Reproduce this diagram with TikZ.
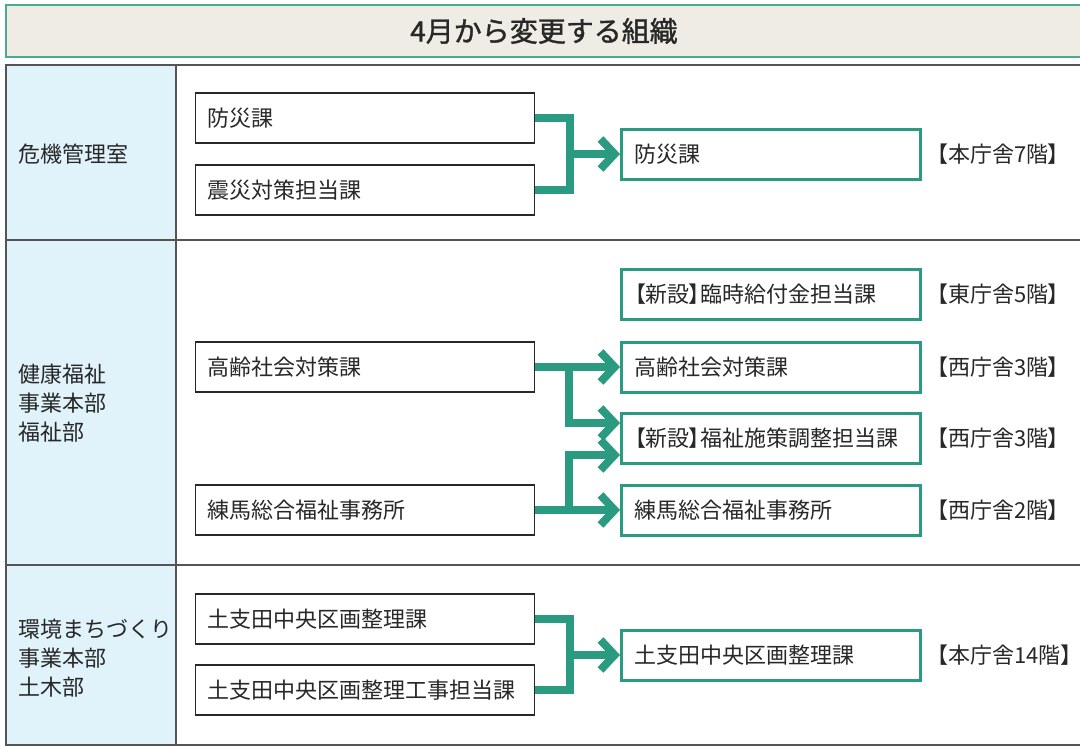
\documentclass[tikz,border=0pt]{standalone}
\usepackage{fontspec}
\setmainfont{Noto Sans CJK JP}
\newfontfamily\paltfont{Noto Sans CJK JP}[RawFeature=+palt]
\newfontfamily\titlefont{Noto Sans CJK JP}[FakeBold=1.3]
\usetikzlibrary{arrows.meta}
\definecolor{tealc}{RGB}{42,154,128}
\definecolor{txt}{RGB}{40,40,40}
\definecolor{rule}{RGB}{85,85,85}
\definecolor{side}{RGB}{224,242,250}
\definecolor{titlebg}{RGB}{239,236,230}
\newcommand{\lb}{{\paltfont 【}}
\newcommand{\rb}{{\paltfont 】}}
\tikzset{
  body/.style={font=\fontsize{22}{29}\selectfont, text=txt},
  oldbox/.style={body, draw=txt, line width=1.3pt, fill=white, anchor=west,
    minimum height=50pt, inner xsep=12pt, inner ysep=0pt, text width=315pt, align=left},
  newbox/.style={body, draw=tealc, line width=3pt, fill=white, anchor=west,
    minimum height=50pt, inner xsep=13pt, inner ysep=0pt, text width=273pt, align=left},
  floor/.style={body, anchor=west, inner sep=0pt},
  dept/.style={body, anchor=west, inner sep=0pt, align=left},
  link/.style={draw=tealc, line width=8pt, line join=miter, line cap=butt},
  arr/.style={link, -{Straight Barb[length=14pt, width=30pt, sharp]}},
}
\begin{document}
\begin{tikzpicture}[x=1pt,y=-1pt]
\clip (0,0) rectangle (1080,747);
\fill[white] (0,0) rectangle (1080,747);
% title bar
\draw[fill=titlebg, draw=tealc!85, line width=1.5pt] (6,5) rectangle (1082,57);
\node[font=\titlefont\fontsize{28}{32}\selectfont, text=txt] (title) at (544,31) {4月から変更する組織};
% table
\fill[side] (6,65) rectangle (176,745);
\draw[rule, line width=2pt] (6,65) rectangle (1090,745);
\draw[rule, line width=2pt] (176,65) -- (176,745);
\draw[rule, line width=2pt] (6,240) -- (1090,240);
\draw[rule, line width=2pt] (6,565) -- (1090,565);
% department labels
\node[dept] (d1) at (18,154) {危機管理室};
\node[dept] (d2) at (18,403) {健康福祉\\事業本部\\福祉部};
\node[dept] (d3) at (18,658) {環境まちづくり\\事業本部\\土木部};
% row 1
\node[oldbox] (a1) at (195,118) {防災課};
\node[oldbox] (a2) at (195,190) {震災対策担当課};
\node[newbox] (n1) at (620,154) {防災課};
\node[floor] (f1) at (937,154) {\lb 本庁舎7階\rb};
\coordinate (j1) at (570,154);
\draw[link] (a1.east) -| (j1);
\draw[link] (a2.east) -| (j1);
\draw[arr] (j1) -- (n1.west);
% row 2
\node[oldbox] (b1) at (195,367) {高齢社会対策課};
\node[oldbox] (b2) at (195,510) {練馬総合福祉事務所};
\node[newbox] (g1) at (620,294) {\lb 新設\rb 臨時給付金担当課};
\node[newbox] (g2) at (620,367) {高齢社会対策課};
\node[newbox] (g3) at (620,438) {\lb 新設\rb 福祉施策調整担当課};
\node[newbox] (g4) at (620,510) {練馬総合福祉事務所};
\node[floor] (f2) at (937,294) {\lb 東庁舎5階\rb};
\node[floor] (f3) at (937,367) {\lb 西庁舎3階\rb};
\node[floor] (f4) at (937,438) {\lb 西庁舎3階\rb};
\node[floor] (f5) at (937,510) {\lb 西庁舎2階\rb};
\coordinate (k1) at (569,367);
\coordinate (k2) at (569,510);
\draw[arr] (b1.east) -- (g2.west);
\draw[arr] (b2.east) -- (g4.west);
\draw[arr] (k1) |- ([yshift=15pt]g3.west);
\draw[arr] (k2) |- ([yshift=-17pt]g3.west);
% row 3
\node[oldbox] (c1) at (195,619) {土支田中央区画整理課};
\node[oldbox] (c2) at (195,690) {土支田中央区画整理工事担当課};
\node[newbox] (m1) at (620,655) {土支田中央区画整理課};
\node[floor] (f6) at (937,655) {\lb 本庁舎14階\rb};
\coordinate (j3) at (570,655);
\draw[link] (c1.east) -| (j3);
\draw[link] (c2.east) -| (j3);
\draw[arr] (j3) -- (m1.west);
\end{tikzpicture}
\end{document}
